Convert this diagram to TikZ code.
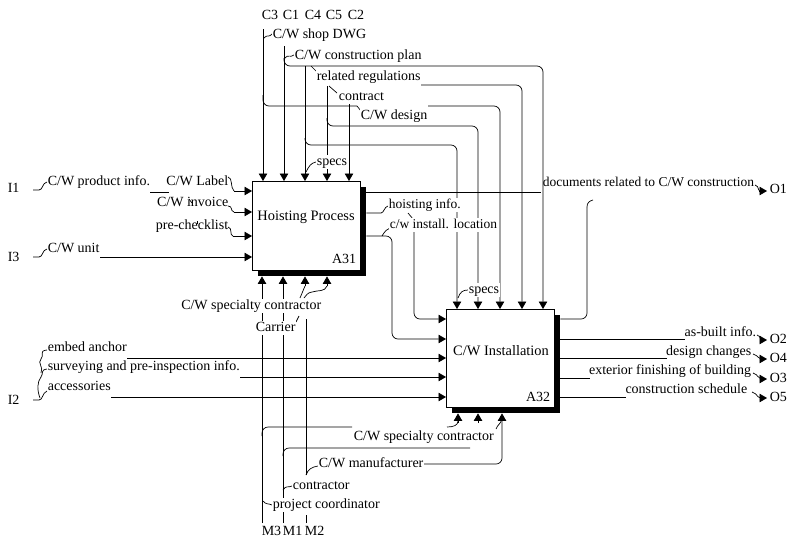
\documentclass[tikz,border=0pt]{standalone}
\usepackage{fontspec}
\setmainfont{Liberation Serif}
\usetikzlibrary{arrows.meta}
\begin{document}
\begin{tikzpicture}[x=1pt,y=-1pt,
  font=\fontsize{14}{16}\selectfont,
  ln/.style={line width=0.7pt},
  arr/.style={line width=0.7pt,-{Triangle[length=7.5pt,width=8.5pt]}},
  rc/.style={rounded corners=6pt},
  txt/.style={inner sep=0.6pt,text height=9.4pt,text depth=2.9pt},
  lbl/.style={txt,fill=white},
  small/.style={font=\fontsize{13.5}{15}\selectfont},
  title/.style={font=\fontsize{14.4}{16}\selectfont,inner sep=0pt},
  shadowbox/.style={fill=black,inner sep=0pt,anchor=north west},
  procbox/.style={draw,line width=0.8pt,fill=white,inner sep=0pt,anchor=north west}]
\useasboundingbox (0,0) rectangle (789,542);
\fill[white] (0,0) rectangle (789,542);

% ---------- boxes ----------
\node[shadowbox,minimum width=108pt,minimum height=89pt] (S31) at (258,187) {};
\node[procbox,minimum width=108pt,minimum height=89pt] (A31) at (252,181) {};
\node[title] (t31) at (306,217) {Hoisting Process};
\node[txt,anchor=east] (n31) at (357,260) {A31};

\node[shadowbox,minimum width=108pt,minimum height=98pt] (S32) at (452,315) {};
\node[procbox,minimum width=108pt,minimum height=98pt] (A32) at (446,309) {};
\node[title] (t32) at (501,351) {C/W Installation};
\node[txt,anchor=east] (n32) at (551,398) {A32};

% ---------- controls ----------
\draw[arr] (263,29) -- (263,0 |- A31.north);
\draw[arr] (284,46) -- (284,0 |- A31.north);
\draw[arr] (305,66) -- (305,0 |- A31.north);
\draw[arr] (327,86) -- (327,0 |- A31.north);
\draw[arr] (349,98) -- (349,0 |- A31.north);

\draw[ln,rc] (263,95) |- (357,106);
\draw[arr,rc] (428,106) -| (500,0 |- A32.north);
\draw[arr,rc] (284,58) |- (543,66) -- (543,0 |- A32.north);
\draw[arr,rc] (421,85) -| (522,0 |- A32.north);
\draw[arr,rc] (327,118) |- (478,126) -- (478,0 |- A32.north);
\draw[arr,rc] (305,138) |- (457,145) -- (457,0 |- A32.north);

\draw[ln] (264,38) .. controls (267,34) and (269,38) .. (272,34);
\draw[ln] (285,58) .. controls (288,54) and (290,58) .. (294,55);
\draw[ln] (311,66) -- (317,72);
\draw[ln] (329,86) -- (337,93);
\draw[ln] (357,106) -- (361,111);
\draw[ln] (306,172) .. controls (309,166) and (311,163) .. (316,162);
\draw[ln] (458,298) .. controls (460,292) and (463,290) .. (468,290);

\node[txt,anchor=west] (c3) at (261,16) {C3};
\node[txt,anchor=west] (c1) at (282,16) {C1};
\node[txt,anchor=west] (c4) at (304,16) {C4};
\node[txt,anchor=west] (c5) at (325,16) {C5};
\node[txt,anchor=west] (c2) at (347,16) {C2};
\node[lbl,anchor=west] (lshop) at (272,35) {C/W shop DWG};
\node[lbl,anchor=west] (lplan) at (294,56) {C/W construction plan};
\node[lbl,anchor=west] (lreg) at (316,77) {related regulations};
\node[lbl,anchor=west] (lcon) at (338,97) {contract};
\node[lbl,anchor=west] (ldes) at (360,116) {C/W design};
\node[lbl,anchor=west] (lsp1) at (316,162) {specs};
\node[lbl,anchor=west] (lsp2) at (468,290) {specs};

% ---------- inputs of A31 ----------
\node[txt,anchor=west] (i1) at (7,189) {I1};
\draw[ln] (33,190) -- (39,190) .. controls (43,190) and (42,183) .. (47,182);
\node[txt,anchor=west] (lpi) at (47,182) {C/W product info.};
\draw[ln] (150,192) -- (169,192);
\node[txt,anchor=east] (llab) at (229,182) {C/W Label};
\draw[ln] (228,177) .. controls (233,178) and (230,187) .. (234,191);
\draw[arr] (234,191) -- (A31.west |- 0,191);
\node[txt,anchor=east] (linv) at (229,203) {C/W invoice};
\draw[ln] (228,206) .. controls (233,206) and (230,211) .. (234,212);
\draw[arr] (234,212) -- (A31.west |- 0,212);
\node[txt,anchor=east] (lpre) at (229,226) {pre-checklist};
\draw[ln] (228,227) .. controls (233,228) and (229,235) .. (233,236);
\draw[arr] (233,236) -- (A31.west |- 0,236);
\draw[ln] (189,199) .. controls (190,201) .. (192,203);
\draw[ln] (197,221) -- (197,224);

\node[txt,anchor=west] (i3) at (7,258) {I3};
\draw[ln] (33,257) -- (39,257) .. controls (43,257) and (42,250) .. (47,249);
\node[txt,anchor=west] (lunit) at (47,249) {C/W unit};
\draw[arr] (100,257) -- (A31.west |- 0,257);

% ---------- outputs of A31 ----------
\draw[ln] (S31.east |- 0,192) -- (541,192);
\node[txt,small,anchor=east] (ldoc) at (755,183) {documents related to C/W construction};
\draw[ln] (755,185) .. controls (760,187) and (757,190) .. (760,191);
\draw[arr] (759,191) -- (767,191);
\node[txt,anchor=west] (o1) at (769,190) {O1};
\draw[ln,rc] (S32.east |- 0,319) -| (587,207);
\draw[ln] (587,207) .. controls (587,203) and (589,201) .. (593,200);

\draw[ln] (S31.east |- 0,213) -- (381,213) .. controls (384,213) and (384,207) .. (388,206);
\draw[ln] (408,213) -- (413,219);
\draw[arr,rc] (414,219) |- (A32.west |- 0,319);
\draw[ln] (382,236) .. controls (385,231) and (387,229) .. (390,228);
\draw[arr,rc] (S31.east |- 0,236) -| (392,339) -- (A32.west |- 0,339);
\node[lbl,small,anchor=west] (lhoi) at (388,205) {hoisting info.};
\node[lbl,small,anchor=west] (lloc) at (389,225) {c/w install. location};

% ---------- inputs of A32 ----------
\node[txt,anchor=west] (lemb) at (47,348) {embed anchor};
\draw[arr] (127,358) -- (A32.west |- 0,358);
\node[txt,anchor=west] (lsur) at (47,367) {surveying and pre-inspection info.};
\draw[arr] (240,377) -- (A32.west |- 0,377);
\node[txt,anchor=west] (lacc) at (47,387) {accessories};
\draw[arr] (111,397) -- (A32.west |- 0,397);
\node[txt,anchor=west] (i2) at (7,401) {I2};
\draw[ln] (33,400) -- (39,400) .. controls (43,400) and (42,393) .. (47,391);
\draw[ln] (40,398) .. controls (37,390) and (37,382) .. (41,377) .. controls (44,373) and (40,370) .. (47,369);
\draw[ln] (41,373) .. controls (44,367) and (37,363) .. (41,359) .. controls (45,355) and (38,351) .. (47,350);

% ---------- outputs of A32 ----------
\draw[ln] (S32.east |- 0,339) -- (685,339);
\node[txt,anchor=east] (lasb) at (757,333) {as-built info.};
\draw[ln] (757,335) .. controls (762,337) and (759,339) .. (761,340);
\draw[arr] (760,340) -- (767,340);
\node[txt,anchor=west] (o2) at (769,340) {O2};

\draw[ln] (S32.east |- 0,358) -- (667,358);
\node[txt,anchor=east] (ldch) at (752,352) {design changes};
\draw[ln] (753,354) .. controls (759,356) and (757,358) .. (761,359);
\draw[arr] (760,359) -- (767,359);
\node[txt,anchor=west] (o4) at (769,359) {O4};

\draw[ln] (S32.east |- 0,378) -- (590,378);
\node[txt,anchor=east] (lext) at (752,371) {exterior finishing of building};
\draw[ln] (753,373) .. controls (759,375) and (757,378) .. (761,379);
\draw[arr] (760,379) -- (767,379);
\node[txt,anchor=west] (o3) at (769,379) {O3};

\draw[ln] (S32.east |- 0,397) -- (626,397);
\node[txt,anchor=east] (lsch) at (748,390) {construction schedule};
\draw[ln] (752,392) .. controls (758,394) and (756,397) .. (761,398);
\draw[arr] (760,398) -- (767,398);
\node[txt,anchor=west] (o5) at (769,398) {O5};

% ---------- mechanisms ----------
\draw[arr] (262,523) -- (262,0 |- S31.south);
\draw[arr] (283,523) -- (283,0 |- S31.south);
\draw[ln] (306,523) -- (306,515);
\draw[ln] (306,475) -- (306,319);
\draw[arr] (305,286) -- (305,0 |- S31.south);
\draw[arr] (327,286) -- (327,0 |- S31.south);
\draw[ln] (305,286) -- (300,298);
\draw[ln] (327,286) .. controls (325,292) and (318,290) .. (312,292) .. controls (308,293) .. (304,298);
\draw[ln] (296,322) -- (299,316);
\node[lbl,anchor=east] (lsc1) at (322,306) {C/W specialty contractor};
\node[lbl,anchor=west] (lcar) at (255,328) {Carrier};

\draw[ln,rc] (262,436) |- (352,427);
\draw[ln,rc] (283,456) |- (470,448);
\draw[ln] (306,475) .. controls (308,469) and (312,467) .. (318,466);
\draw[arr,rc] (424,464) -| (502,0 |- S32.south);
\draw[arr] (458,423) -- (458,0 |- S32.south);
\draw[arr] (478,423) -- (478,0 |- S32.south);
\draw[ln] (447,427) .. controls (454,427) and (458,425) .. (458,421);
\draw[ln] (496,429) .. controls (498,424) and (500,425) .. (502,419);
\draw[ln] (283,490) .. controls (286,485) and (288,488) .. (292,486);
\draw[ln] (263,501) .. controls (266,505) and (268,503) .. (272,505);
\node[lbl,anchor=west] (lsc2) at (353,437) {C/W specialty contractor};
\node[lbl,anchor=west] (lman) at (318,464) {C/W manufacturer};
\node[lbl,anchor=west] (lctr) at (292,486) {contractor};
\node[lbl,anchor=west] (lpc) at (272,505) {project coordinator};
\node[txt,anchor=west] (m3) at (261,532) {M3};
\node[txt,anchor=west] (m1) at (282,532) {M1};
\node[txt,anchor=west] (m2) at (304,532) {M2};
\end{tikzpicture}
\end{document}
